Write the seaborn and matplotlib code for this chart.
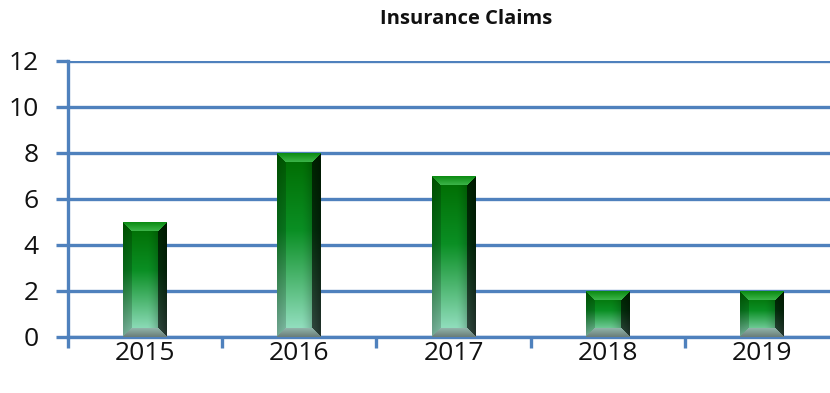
import numpy as np
import pandas as pd
import matplotlib
matplotlib.use("Agg")
import matplotlib.pyplot as plt
import seaborn as sns

years = ["2015", "2016", "2017", "2018", "2019"]
claims = [5, 8, 7, 2, 2]
y_ticks = [0, 2, 4, 6, 8, 10, 12]

df = pd.DataFrame({"year": years, "claims": claims})

sns.set_theme(style="white")
plt.rcParams["font.family"] = ["Open Sans", "DejaVu Sans"]

BLUE = "#4f81bd"
W, H = 830, 393

fig = plt.figure(figsize=(W / 100, H / 100), dpi=100)
# plot area runs past the right edge of the canvas
ax = fig.add_axes([68 / W, (H - 337) / H, 771 / W, (337 - 61) / H])
ax.patch.set_alpha(0)

sns.barplot(data=df, x="year", y="claims", color="#0a7a0a", width=0.285,
            ax=ax, zorder=3, saturation=1)

ax.set_ylim(0, 12)
ax.set_xlim(-0.5, len(years) - 0.5)
ax.set_yticks(y_ticks)
ax.set_yticklabels([str(t) for t in y_ticks])
ax.set_xlabel("")
ax.set_ylabel("")

# horizontal gridlines
for t in y_ticks:
    ax.axhline(t, color=BLUE, lw=2.4, zorder=1)

for s in ["top", "right"]:
    ax.spines[s].set_visible(False)
for s in ["left", "bottom"]:
    ax.spines[s].set_color(BLUE)
    ax.spines[s].set_linewidth(2.4)
    ax.spines[s].set_zorder(2)

ax.tick_params(axis="y", length=9, width=2.4, color=BLUE, labelsize=19, pad=12, left=True)
ax.tick_params(axis="x", which="major", length=0, labelsize=19, pad=3)
ax.set_xticks(np.arange(-0.5, len(years)), minor=True)
ax.tick_params(axis="x", which="minor", length=8, width=2.4, color=BLUE, bottom=True)
for lab in ax.get_xticklabels() + ax.get_yticklabels():
    lab.set_color("#111111")

fig.text(466 / W, 1 - 19 / H, "Insurance Claims", fontsize=14.5, fontweight="bold",
         color="#111111", ha="center", va="center")


def bevel_image(wpx, hpx):
    """Shaded RGB image for a bevelled bar of the given pixel size."""
    wpx = max(int(round(wpx)), 4)
    hpx = max(int(round(hpx)), 4)
    t = np.linspace(0, 1, hpx)[:, None]  # 0 top, 1 bottom
    top = np.array([0.0, 0.42, 0.0])
    mid = np.array([0.04, 0.56, 0.14])
    low = np.array([0.62, 0.90, 0.80])
    body = np.where(t < 0.42,
                    top + (mid - top) * (t / 0.42),
                    mid + (low - mid) * ((t - 0.42) / 0.58))
    img = np.broadcast_to(body.reshape(hpx, 1, 3), (hpx, wpx, 3)).copy()
    xs = np.linspace(0, 1, wpx)[None, :]
    # horizontal shading: darker towards the right edge
    shade = (1 - 0.45 * np.clip((xs - 0.55) / 0.45, 0, 1) ** 1.5
             - 0.12 * np.clip((0.2 - xs) / 0.2, 0, 1))
    img *= shade[..., None]
    b = 9
    yy, xx = np.mgrid[0:hpx, 0:wpx]
    topm = (yy < b) & (yy <= xx) & (yy <= wpx - 1 - xx)
    tg = (yy / b)[..., None]
    img[topm] = (np.array([0.05, 0.55, 0.08]) * (1 - tg) + np.array([0.25, 0.72, 0.30]) * tg)[topm]
    botm = (hpx - 1 - yy < b) & (hpx - 1 - yy <= xx) & (hpx - 1 - yy <= wpx - 1 - xx)
    bg = ((hpx - 1 - yy) / b)[..., None]
    img[botm] = (np.array([0.42, 0.50, 0.48]) * (1 - bg) + np.array([0.58, 0.72, 0.68]) * bg)[botm]
    rm = (wpx - 1 - xx < b) & ~topm & ~botm & (wpx - 1 - xx <= yy) & (wpx - 1 - xx <= hpx - 1 - yy)
    img[rm] = img[rm] * 0.4
    lm = (xx < b) & ~topm & ~botm & (xx <= yy) & (xx <= hpx - 1 - yy)
    img[lm] = img[lm] * 0.82
    return np.clip(img, 0, 1)


fig.canvas.draw()
for patch in list(ax.patches):
    x0, y0 = patch.get_x(), patch.get_y()
    w, h = patch.get_width(), patch.get_height()
    p0 = ax.transData.transform((x0, y0))
    p1 = ax.transData.transform((x0 + w, y0 + h))
    img = bevel_image(abs(p1[0] - p0[0]), abs(p1[1] - p0[1]))
    im = ax.imshow(img, extent=(x0, x0 + w, y0, y0 + h), aspect="auto",
                   zorder=4, interpolation="bilinear")
    im.set_clip_path(patch)
    patch.set_edgecolor("none")

ax.set_xlim(-0.5, len(years) - 0.5)
ax.set_ylim(0, 12)

fig.savefig("out.png", dpi=100)
